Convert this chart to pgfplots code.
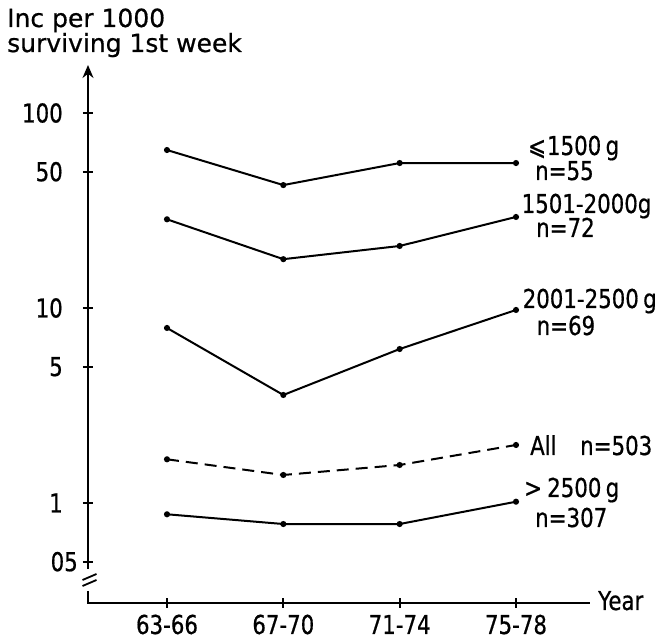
\documentclass[border=0pt]{standalone}
\usepackage{fontspec}
\setmainfont[FakeBold=0.6]{DejaVu Sans}
\newfontfamily\lab[FakeStretch=0.82,FakeBold=0.6]{DejaVu Sans}
\usepackage{pgfplots}
\pgfplotsset{compat=1.18}
\usetikzlibrary{arrows.meta,calc}
\newcommand\lf{\lab\fontsize{26bp}{30bp}\selectfont}
\newcommand\tf{\fontsize{25bp}{30bp}\selectfont}

\begin{document}
\begin{tikzpicture}
\begin{axis}[
  scale only axis, width=502bp, height=535bp,
  xmin=-0.679, xmax=3.636, ymode=log, ymin=0.3069, ymax=170.2,
  axis x line*=bottom, axis y line*=left,
  axis line style={draw=none},
  xtick={0,1,2,3}, xticklabels={63-66,67-70,71-74,75-78},
  ytick={1,5,10,50,100}, yticklabels={1,5,10,50,100},
  extra y ticks={0.5}, extra y tick labels={05},
  extra y tick style={yticklabel style={xshift=15bp}},
  yminorticks=false, xminorticks=false,
  tick align=center, major tick length=10bp,
  every tick/.style={black, line width=1.8bp},
  /pgf/number format/assume math mode=true,
  ticklabel style={font=\lf, inner sep=0pt},
  yticklabel style={anchor=east, xshift=-20bp},
  xticklabel style={anchor=base, yshift=-26bp},
  clip=false,
  ser/.style={black, line width=2bp, mark=*, mark size=2bp, mark options={solid}},
]
\addplot[ser] coordinates {(0,64.6)(1,42.7)(2,55.4)(3,55.4)};
\addplot[ser] coordinates {(0,28.5)(1,17.8)(2,20.8)(3,29.3)};
\addplot[ser] coordinates {(0,7.90)(1,3.58)(2,6.16)(3,9.77)};
\addplot[ser, dash pattern=on 12bp off 7bp] coordinates {(0,1.675)(1,1.392)(2,1.566)(3,1.984)};
\addplot[ser] coordinates {(0,0.875)(1,0.780)(2,0.780)(3,1.015)};
\coordinate (O) at (rel axis cs:0,0);
\end{axis}
\begin{scope}[shift={($(O)+(-88bp,603bp)$)}, x=1bp, y=-1bp]
  % axes
  \draw[line width=2bp, -{Stealth[length=13bp,width=11bp]}] (88,569) -- (88,65);
  \draw[line width=2bp] (88,591) -- (88,603) -- (590,603);
  \draw[line width=1.8bp] (82.5,580) -- (96.5,574);
  \draw[line width=1.8bp] (82.5,586) -- (96.5,580);
  % title
  \node[anchor=base west, inner sep=0pt, font=\tf] at (7,27) {Inc per 1000};
  \node[anchor=base west, inner sep=0pt, font=\tf] at (7,52) {surviving 1st week};
  % series labels
  \node[anchor=base west, inner sep=0pt, font=\lf] at (528,155) {⩽\kern1bp1500\,g};
  \node[anchor=base west, inner sep=0pt, font=\lf] at (535,180) {n=55};
  \node[anchor=base west, inner sep=0pt, font=\lf] at (521.5,213) {1501-2000g};
  \node[anchor=base west, inner sep=0pt, font=\lf] at (536,237) {n=72};
  \node[anchor=base west, inner sep=0pt, font=\lf] at (522.5,308) {2001-2500\,g};
  \node[anchor=base west, inner sep=0pt, font=\lf] at (536.5,335) {n=69};
  \node[anchor=base west, inner sep=0pt, font=\lf] at (530,455) {All};
  \node[anchor=base west, inner sep=0pt, font=\lf] at (580,455) {n=503};
  \node[anchor=base west, inner sep=0pt, font=\lf] at (524,497) {>};
  \node[anchor=base west, inner sep=0pt, font=\lf] at (547,497) {2500\,g};
  \node[anchor=base west, inner sep=0pt, font=\lf] at (535,527) {n=307};
  \node[anchor=base west, inner sep=0pt, font=\lf] at (598,610) {Year};
\end{scope}
\pgfresetboundingbox
\useasboundingbox ($(O)+(-88bp,-38bp)$) rectangle ++(657bp,641bp);
\end{tikzpicture}
\end{document}
